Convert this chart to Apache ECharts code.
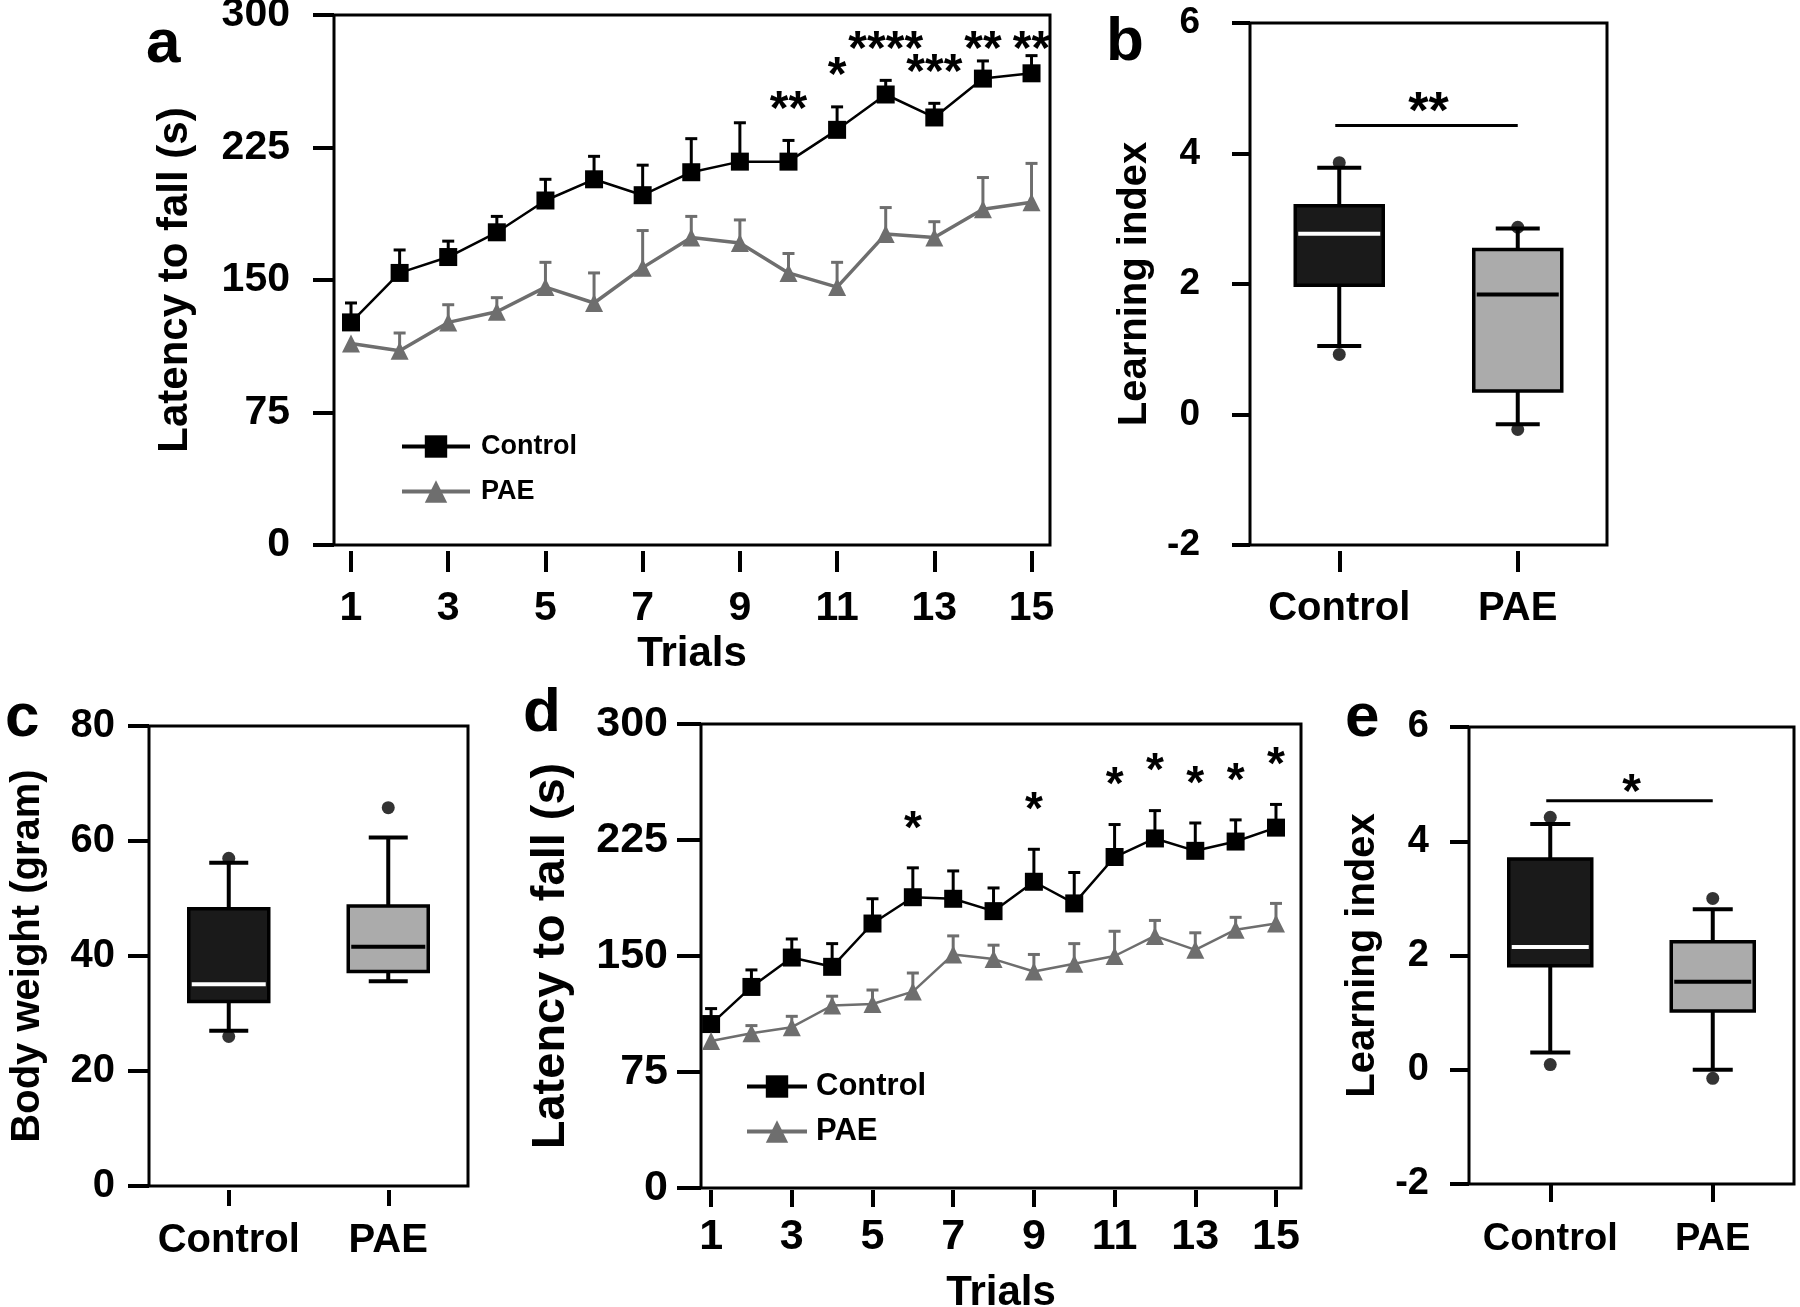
<!DOCTYPE html>
<html><head><meta charset="utf-8">
<script src="https://cdn.jsdelivr.net/npm/echarts@6/dist/echarts.min.js"></script>
<style>html,body{margin:0;padding:0;background:#fff}#c{width:1800px;height:1307px}</style>
</head><body><div id="c"></div>
<script>
// ---------- DATA ----------
const trials = [1,2,3,4,5,6,7,8,9,10,11,12,13,14,15];
const trialTicks = [1,3,5,7,9,11,13,15];
const groups = ['Control','PAE'];

// Panel a (latency to fall, s)
const aControl    = [126,154,163,177,195,207,198,211,217,217,235,255,242,264,267];
const aControlErr = [137,167,172,186,207,220,215,230,239,229,248,263,250,274,277];
const aPAE        = [114,110,126,132,146,137,157,174,171,154,146,176,174,190,194];
const aPAEErr     = [null,120,136,140,160,154,178,186,184,165,160,191,183,208,216];
const aStars      = ['','','','','','','','','','**','*','****','***','**','**'];

// Panel d (latency to fall, s)
const dControl    = [106,130,149,143,171,188,187,179,198,184,214,226,218,224,233];
const dControlErr = [116,141,161,158,187,207,205,194,219,204,235,244,236,238,248];
const dPAE        = [95,100,104,118,119,127,151,148,140,145,150,163,154,167,171];
const dPAEErr     = [null,105,111,124,128,139,163,157,151,158,166,173,165,175,184];
const dStars      = ['','','','','','*','','','*','','*','*','*','*','*'];

// Box plots: [min, Q1, median, Q3, max]
const bControlBox = [1.05, 1.98, 2.77, 3.20, 3.78];
const bPAEBox     = [-0.15, 0.36, 1.84, 2.53, 2.85];
const bControlDots = [0.92, 3.86];
const bPAEDots     = [-0.23, 2.87];
const bSig = {y: 4.43, text: '**'};

const cControlBox = [27.0, 32.1, 35.1, 48.2, 56.2];
const cPAEBox     = [35.6, 37.3, 41.6, 48.7, 60.6];
const cControlDots = [26.0, 57.0];
const cPAEDots     = [65.8];

const eControlBox = [0.30, 1.82, 2.15, 3.69, 4.30];
const ePAEBox     = [0.00, 1.03, 1.54, 2.24, 2.81];
const eControlDots = [0.09, 4.42];
const ePAEDots     = [-0.15, 3.00];
const eSig = {y: 4.71, text: '*'};

// ---------- STYLE ----------
const F = "'Liberation Sans', Arial, Helvetica, sans-serif";
const BLACK = '#000000', GRAY = '#6e6e6e';
const FILLS = ['#1a1a1a', '#ababab'];
const MEDS = ['#ffffff', '#000000'];

function pairs(xs, ys){ return xs.map((x,i)=>[x, ys[i]]); }
function errData(xs, v, t){ const out=[]; xs.forEach((x,i)=>{ if(t[i]!=null) out.push([x, v[i], t[i]]); }); return out; }

function errRender(color, capW, lw){
  return function(params, api){
    const x = api.value(0);
    const p0 = api.coord([x, api.value(1)]);
    const p1 = api.coord([x, api.value(2)]);
    return {type:'group', children:[
      {type:'line', shape:{x1:p0[0],y1:p0[1],x2:p1[0],y2:p1[1]}, style:{stroke:color, lineWidth:lw}},
      {type:'line', shape:{x1:p1[0]-capW/2,y1:p1[1],x2:p1[0]+capW/2,y2:p1[1]}, style:{stroke:color, lineWidth:lw}}
    ]};
  };
}

function starSeries(xi, yi, xs, tops, vals, stars, offset, fontSize, ymax, minFromTop){
  const items=[], texts=[];
  xs.forEach((x,i)=>{ if(stars[i]){ items.push([x, tops[i]!=null?tops[i]:vals[i]]); texts.push(stars[i]); } });
  return {type:'custom', xAxisIndex:xi, yAxisIndex:yi, data:items, z:5, silent:true,
    renderItem:function(params, api){
      const p = api.coord([api.value(0), api.value(1)]);
      const topPx = api.coord([api.value(0), ymax])[1];
      const y = Math.max(p[1]-offset, topPx+minFromTop);
      return {type:'text', style:{text:texts[params.dataIndex], x:p[0], y:y,
        align:'center', verticalAlign:'middle', font:'bold '+fontSize+'px '+F, fill:BLACK}};
    }};
}

function boxSeries(xi, yi, boxes, boxW, capW){
  return {type:'custom', xAxisIndex:xi, yAxisIndex:yi, z:3, silent:true,
    data: boxes.map((b,i)=>[i].concat(b)),
    renderItem:function(params, api){
      const c = api.value(0);
      const x = api.coord([c, api.value(1)])[0];
      const y = k => api.coord([c, api.value(k)])[1];
      const yMin=y(1), yQ1=y(2), yMed=y(3), yQ3=y(4), yMax=y(5);
      const lw = 4;
      return {type:'group', children:[
        {type:'line', shape:{x1:x,y1:yQ3,x2:x,y2:yMax}, style:{stroke:BLACK,lineWidth:lw}},
        {type:'line', shape:{x1:x,y1:yQ1,x2:x,y2:yMin}, style:{stroke:BLACK,lineWidth:lw}},
        {type:'line', shape:{x1:x-capW/2,y1:yMax,x2:x+capW/2,y2:yMax}, style:{stroke:BLACK,lineWidth:lw}},
        {type:'line', shape:{x1:x-capW/2,y1:yMin,x2:x+capW/2,y2:yMin}, style:{stroke:BLACK,lineWidth:lw}},
        {type:'rect', shape:{x:x-boxW/2,y:yQ3,width:boxW,height:yQ1-yQ3}, style:{fill:FILLS[c],stroke:BLACK,lineWidth:3.5}},
        {type:'line', shape:{x1:x-boxW/2+3,y1:yMed,x2:x+boxW/2-3,y2:yMed}, style:{stroke:MEDS[c],lineWidth:4}}
      ]};
    }};
}

function dotSeries(xi, yi, dotsC, dotsP){
  const data = dotsC.map(v=>[0,v]).concat(dotsP.map(v=>[1,v]));
  return {type:'scatter', xAxisIndex:xi, yAxisIndex:yi, data:data, symbol:'circle', symbolSize:13, z:4,
    itemStyle:{color:BLACK}, silent:true};
}

function sigSeries(xi, yi, sig, fontSize, textOffset){
  return {type:'custom', xAxisIndex:xi, yAxisIndex:yi, z:5, silent:true, data:[[0,1,sig.y]],
    renderItem:function(params, api){
      const p0 = api.coord([0, api.value(2)]);
      const p1 = api.coord([1, api.value(2)]);
      return {type:'group', children:[
        {type:'line', shape:{x1:p0[0]-4,y1:p0[1],x2:p1[0],y2:p1[1]}, style:{stroke:BLACK,lineWidth:3}},
        {type:'text', style:{text:sig.text, x:(p0[0]+p1[0])/2, y:p0[1]-textOffset, align:'center', verticalAlign:'middle',
          font:'bold '+fontSize+'px '+F, fill:BLACK}}
      ]};
    }};
}

const gridBase = {show:true, borderColor:BLACK, borderWidth:3, backgroundColor:'transparent', containLabel:false, outerBoundsMode:'none'};
const grids = [
  Object.assign({left:334, top:15, width:716, height:530}, gridBase),   // a
  Object.assign({left:1250, top:23, width:357, height:522}, gridBase),  // b
  Object.assign({left:149, top:726, width:319, height:460}, gridBase),  // c
  Object.assign({left:701, top:724, width:600, height:464}, gridBase),  // d
  Object.assign({left:1469, top:727, width:325, height:457}, gridBase)  // e
];

function valY(gi, min, max, interval, fs, margin, tickLen, name, nameFs, nameGap){
  return {gridIndex:gi, type:'value', min:min, max:max, interval:interval,
    axisLine:{show:false, onZero:false}, splitLine:{show:false},
    axisTick:{show:true, length:tickLen, lineStyle:{color:BLACK, width:4}},
    axisLabel:{show:true, margin:margin, color:BLACK, fontFamily:F, fontWeight:'bold', fontSize:fs},
    name:name, nameLocation:'middle', nameGap:nameGap,
    nameTextStyle:{color:BLACK, fontFamily:F, fontWeight:'bold', fontSize:nameFs}};
}
function trialX(gi, min, max, offset, tickLen, fs, margin, nameGap, nameFs){
  return {gridIndex:gi, type:'value', min:min, max:max, offset:offset,
    axisLine:{show:false, onZero:false}, splitLine:{show:false},
    axisTick:{show:true, customValues:trialTicks, length:tickLen, lineStyle:{color:BLACK, width:4}},
    axisLabel:{show:true, customValues:trialTicks, margin:margin, color:BLACK, fontFamily:F, fontWeight:'bold', fontSize:fs},
    name:'Trials', nameLocation:'middle', nameGap:nameGap,
    nameTextStyle:{color:BLACK, fontFamily:F, fontWeight:'bold', fontSize:nameFs}};
}
function catX(gi, offset, tickLen, fs, margin){
  return {gridIndex:gi, type:'category', data:groups, boundaryGap:true, offset:offset,
    axisLine:{show:false, onZero:false}, splitLine:{show:false},
    axisTick:{show:true, alignWithLabel:true, interval:0, length:tickLen, lineStyle:{color:BLACK, width:4}},
    axisLabel:{show:true, interval:0, margin:margin, color:BLACK, fontFamily:F, fontWeight:'bold', fontSize:fs}};
}

const xAxes = [
  trialX(0, 0.65, 15.38, 6, 21, 41, 37, 82, 42),
  catX(1, 6, 21, 40, 38),
  catX(2, 4, 16, 40, 31),
  trialX(3, 0.75, 15.62, 2, 17, 43, 26, 82, 42),
  catX(4, 0, 18, 38, 37)
];
const yAxes = [
  valY(0, 0, 300, 75, 41, 44, 21, 'Latency to fall (s)', 42, 138),
  valY(1, -2, 6, 2, 37, 50, 18, 'Learning index', 40, 95),
  valY(2, 0, 80, 20, 40, 34, 21, 'Body weight (gram)', 40, 101),
  valY(3, 0, 300, 75, 43, 33, 24, 'Latency to fall (s)', 47, 126),
  valY(4, -2, 6, 2, 38, 40, 19, 'Learning index', 40, 86)
];

function lineSeries(xi, yi, name, vals, color, symbol, lw){
  return {type:'line', name:name, xAxisIndex:xi, yAxisIndex:yi, data:pairs(trials, vals),
    symbol:symbol, symbolSize:18, z:3, lineStyle:{color:color, width:lw},
    itemStyle:{color:color, borderWidth:0}, silent:true};
}
function errSeries(xi, yi, vals, tops, color){
  return {type:'custom', xAxisIndex:xi, yAxisIndex:yi, z:2, silent:true,
    data:errData(trials, vals, tops), renderItem:errRender(color, 12, 3)};
}

const series = [
  // a
  errSeries(0,0,aControl,aControlErr,BLACK),
  errSeries(0,0,aPAE,aPAEErr,GRAY),
  lineSeries(0,0,'Control',aControl,BLACK,'rect',2.5),
  lineSeries(0,0,'PAE',aPAE,GRAY,'triangle',3.5),
  starSeries(0,0,trials,aControlErr,aControl,aStars,30,48,300,36),
  // d
  errSeries(3,3,dControl,dControlErr,BLACK),
  errSeries(3,3,dPAE,dPAEErr,GRAY),
  lineSeries(3,3,'Control',dControl,BLACK,'rect',2.5),
  lineSeries(3,3,'PAE',dPAE,GRAY,'triangle',2.5),
  starSeries(3,3,trials,dControlErr,dControl,dStars,38,46,300,30),
  // b
  boxSeries(1,1,[bControlBox,bPAEBox],88,44),
  dotSeries(1,1,bControlDots,bPAEDots),
  sigSeries(1,1,bSig,52,12),
  // c
  boxSeries(2,2,[cControlBox,cPAEBox],80,39),
  dotSeries(2,2,cControlDots,cPAEDots),
  // e
  boxSeries(4,4,[eControlBox,ePAEBox],83,40),
  dotSeries(4,4,eControlDots,ePAEDots),
  sigSeries(4,4,eSig,48,7)
];

const legends = [
  {orient:'vertical', left:395, top:428, itemWidth:68, itemHeight:28, itemGap:18, selectedMode:false,
   lineStyle:{width:4},
   data:['Control','PAE'], textStyle:{color:BLACK, fontFamily:F, fontWeight:'bold', fontSize:27, padding:[0,0,0,6]}},
  {orient:'vertical', left:740, top:1066, itemWidth:60, itemHeight:28, itemGap:14, selectedMode:false,
   lineStyle:{width:4},
   data:['Control','PAE'], textStyle:{color:BLACK, fontFamily:F, fontWeight:'bold', fontSize:31, padding:[0,0,0,4]}}
];

const letters = [
  {t:'a', x:146, y:44}, {t:'b', x:1106, y:42}, {t:'c', x:5, y:718}, {t:'d', x:523, y:713}, {t:'e', x:1345, y:718}
];
const graphic = letters.map(l=>({type:'text', left:l.x, top:l.y-30, style:{text:l.t, font:'bold 62px '+F, fill:BLACK}}));

const chart = echarts.init(document.getElementById('c'), null, {renderer:'canvas'});
chart.setOption({
  animation:false, backgroundColor:'#ffffff',
  grid:grids, xAxis:xAxes, yAxis:yAxes, series:series, legend:legends, graphic:graphic
});
</script></body></html>
